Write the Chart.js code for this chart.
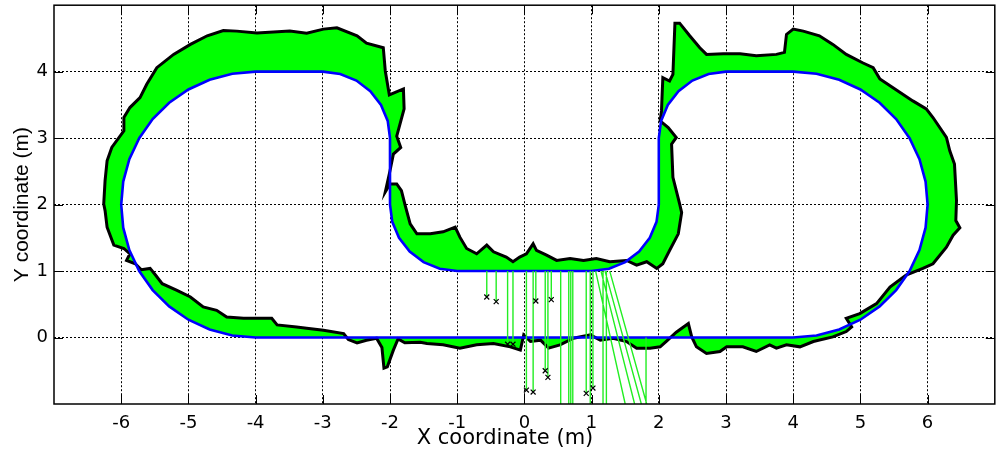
<!DOCTYPE html>
<html>
<head>
<meta charset="utf-8">
<script src="https://cdn.jsdelivr.net/npm/chart.js@4.4.1/dist/chart.umd.min.js"></script>
<style>
  html, body { margin: 0; padding: 0; background: #fff; }
  #wrap { width: 1000px; height: 460px; }
</style>
</head>
<body>
<div id="wrap"><canvas id="grafico"></canvas></div>
<script>
// ticks
const xTicks = [-6, -5, -4, -3, -2, -1, 0, 1, 2, 3, 4, 5, 6];
const yTicks = [0, 1, 2, 3, 4];

// planned track (blue), counter-clockwise from (-4, 0)
const trackXY = [
  [-4, 0], [4, 0],
  [4.347, 0.030], [4.684, 0.121], [5, 0.268], [5.286, 0.468], [5.532, 0.714], [5.732, 1], [5.879, 1.316], [5.970, 1.653],
  [6, 2], [5.970, 2.347], [5.879, 2.684], [5.732, 3], [5.532, 3.286], [5.286, 3.532], [5, 3.732], [4.684, 3.879], [4.347, 3.970], [4, 4],
  [3, 4], [2.741, 3.966], [2.5, 3.866], [2.293, 3.707], [2.134, 3.5], [2.034, 3.259], [2, 3],
  [2, 2], [1.966, 1.741], [1.866, 1.5], [1.707, 1.293], [1.5, 1.134], [1.259, 1.034], [1, 1],
  [-1, 1], [-1.259, 1.034], [-1.5, 1.134], [-1.707, 1.293], [-1.866, 1.5], [-1.966, 1.741], [-2, 2],
  [-2, 3], [-2.034, 3.259], [-2.134, 3.5], [-2.293, 3.707], [-2.5, 3.866], [-2.741, 3.966], [-3, 4],
  [-4, 4], [-4.347, 3.970], [-4.684, 3.879], [-5, 3.732], [-5.286, 3.532], [-5.532, 3.286], [-5.732, 3], [-5.879, 2.684], [-5.970, 2.347],
  [-6, 2], [-5.970, 1.653], [-5.879, 1.316], [-5.732, 1], [-5.532, 0.714], [-5.286, 0.468], [-5, 0.268], [-4.684, 0.121], [-4.347, 0.030], [-4, 0]
];

// measured outline (black), same direction
const scanXY = [
  [-4.00, 0.29], [-3.76, 0.29], [-3.68, 0.19], [-3.39, 0.16], [-3.24, 0.14], [-2.99, 0.11], [-2.69, 0.06], [-2.62, -0.03],
  [-2.49, -0.08], [-2.35, -0.04], [-2.20, -0.01], [-2.12, -0.15], [-2.09, -0.46], [-2.04, -0.44], [-1.95, -0.19], [-1.88, -0.02],
  [-1.78, -0.08], [-1.55, -0.07], [-1.45, -0.09], [-1.21, -0.11], [-0.96, -0.16], [-0.71, -0.11], [-0.46, -0.09], [-0.21, -0.14],
  [-0.06, -0.19], [-0.01, 0.04], [0.09, -0.06], [0.24, -0.04], [0.36, -0.16], [0.53, -0.11], [0.73, -0.01], [0.98, 0.04],
  [1.13, -0.04], [1.32, -0.01], [1.52, -0.06], [1.67, -0.16], [1.87, -0.16], [2.02, -0.14], [2.12, -0.05], [2.26, 0.08],
  [2.44, 0.21], [2.49, 0.01], [2.56, -0.14], [2.71, -0.24], [2.91, -0.21], [3.01, -0.14], [3.25, -0.14], [3.45, -0.21],
  [3.65, -0.11], [3.75, -0.16], [3.90, -0.11], [4.10, -0.14], [4.30, -0.06], [4.59, 0.01], [4.79, 0.09], [4.87, 0.16],
  [4.79, 0.29], [4.99, 0.36], [5.24, 0.51], [5.44, 0.76], [5.68, 0.94], [5.93, 1.04], [6.08, 1.11], [6.28, 1.36],
  [6.38, 1.54], [6.48, 1.65], [6.42, 1.76], [6.43, 2.06], [6.40, 2.61], [6.33, 2.81], [6.28, 3.01], [6.08, 3.31],
  [5.98, 3.44], [5.78, 3.56], [5.48, 3.76], [5.29, 3.89], [5.19, 4.06], [5.04, 4.13], [4.79, 4.26], [4.59, 4.41],
  [4.39, 4.54], [4.15, 4.61], [4.00, 4.64], [3.90, 4.56], [3.87, 4.29], [3.75, 4.26], [3.45, 4.24], [3.21, 4.27],
  [2.96, 4.27], [2.71, 4.26], [2.61, 4.36], [2.46, 4.54], [2.31, 4.73], [2.24, 4.73], [2.21, 3.96], [2.16, 3.86],
  [2.06, 3.91], [2.04, 3.41], [2.02, 3.26], [2.14, 3.16], [2.26, 3.01], [2.19, 2.91], [2.21, 2.41], [2.31, 2.01],
  [2.34, 1.88], [2.29, 1.56], [2.16, 1.31], [2.06, 1.11], [1.97, 1.04], [1.82, 1.14], [1.67, 1.09], [1.52, 1.16],
  [1.27, 1.14], [1.07, 1.19], [0.88, 1.16], [0.68, 1.19], [0.48, 1.16], [0.33, 1.24], [0.18, 1.31], [0.13, 1.41],
  [0.03, 1.26], [-0.07, 1.21], [-0.17, 1.14], [-0.27, 1.21], [-0.46, 1.29], [-0.56, 1.39], [-0.71, 1.26], [-0.86, 1.34],
  [-0.96, 1.51], [-1.03, 1.66], [-1.21, 1.59], [-1.40, 1.56], [-1.60, 1.56], [-1.70, 1.71], [-1.78, 2.01], [-1.83, 2.21],
  [-1.90, 2.31], [-2.00, 2.31], [-2.07, 2.19], [-2.00, 2.51], [-1.95, 2.76], [-1.84, 2.86], [-1.90, 3.03], [-1.79, 3.44],
  [-1.80, 3.74], [-2.01, 3.65], [-2.07, 4.01], [-2.10, 4.36], [-2.35, 4.43], [-2.49, 4.54], [-2.79, 4.66], [-2.99, 4.64],
  [-3.24, 4.58], [-3.49, 4.61], [-3.98, 4.58], [-4.28, 4.61], [-4.48, 4.62], [-4.72, 4.54], [-4.97, 4.41], [-5.22, 4.26],
  [-5.47, 4.06], [-5.62, 3.81], [-5.72, 3.61], [-5.87, 3.46], [-5.96, 3.31], [-5.96, 3.11], [-6.14, 2.86], [-6.21, 2.66],
  [-6.24, 2.36], [-6.26, 2.01], [-6.24, 1.91], [-6.21, 1.66], [-6.11, 1.39], [-5.96, 1.34], [-5.87, 1.26], [-5.92, 1.16],
  [-5.79, 1.11], [-5.70, 1.02], [-5.57, 1.04], [-5.49, 0.94], [-5.39, 0.81], [-5.17, 0.71], [-4.97, 0.61], [-4.78, 0.46],
  [-4.58, 0.41], [-4.43, 0.31], [-4.18, 0.29]
];

// stray readings: track point -> measured point
const strayFrom = [
  [-0.56, 1], [-0.42, 1], [0.17, 1], [0.40, 1], [0.03, 1], [0.13, 1], [0.31, 1], [0.35, 1], [0.92, 1], [1.02, 1],
  [-0.25, 1], [-0.17, 1], [0.54, 1], [0.66, 1], [0.69, 1], [0.72, 1], [0.98, 1], [1.17, 1], [1.22, 1],
  [1.06, 1], [1.14, 1], [1.20, 1], [1.27, 1], [1.81, 0]
];
const strayTo = [
  [-0.56, 0.61], [-0.42, 0.54], [0.17, 0.55], [0.40, 0.57], [0.03, -0.79], [0.13, -0.82], [0.31, -0.50], [0.35, -0.60], [0.92, -0.84], [1.02, -0.76],
  [-0.25, -0.10], [-0.17, -0.10], [0.54, -1.1], [0.66, -1.1], [0.69, -1.1], [0.72, -1.1], [0.98, -1.1], [1.17, -1.1], [1.22, -1.1],
  [1.50, -1.0], [1.64, -1.0], [1.74, -1.0], [1.82, -1.0], [1.81, -1.1]
];

document.addEventListener('DOMContentLoaded', function() {
    const pt = p => ({ x: p[0], y: p[1] });

    // closed band: outline forward, track backward -> filled between them
    const band = scanXY.map(pt).concat([pt(scanXY[0])], trackXY.slice().reverse().map(pt));

    const rays = [];
    strayFrom.forEach((p, i) => {
        rays.push(pt(p), pt(strayTo[i]), { x: NaN, y: NaN });
    });

    const wideFont = "'DejaVu Sans', sans-serif";
    const narrowFont = "'Liberation Sans', Arial, sans-serif";

    // box, inward ticks and the x label (MATLAB look)
    const boxPlugin = {
        id: 'boxPlugin',
        afterDraw(chart) {
            const { ctx, chartArea: a, scales } = chart;
            ctx.save();
            ctx.strokeStyle = '#000';
            ctx.lineWidth = 1;
            ctx.beginPath();
            xTicks.forEach(v => {
                const px = Math.round(scales.x.getPixelForValue(v)) + 0.5;
                ctx.moveTo(px, a.bottom); ctx.lineTo(px, a.bottom - 9);
                ctx.moveTo(px, a.top); ctx.lineTo(px, a.top + 9);
            });
            yTicks.forEach(v => {
                const py = Math.round(scales.y.getPixelForValue(v)) + 0.5;
                ctx.moveTo(a.left, py); ctx.lineTo(a.left + 9, py);
                ctx.moveTo(a.right, py); ctx.lineTo(a.right - 9, py);
            });
            ctx.stroke();
            ctx.lineWidth = 1.5;
            ctx.strokeRect(a.left, a.top, a.right - a.left, a.bottom - a.top);

            ctx.fillStyle = '#000';
            ctx.font = "21px " + wideFont;
            ctx.textAlign = 'center';
            ctx.textBaseline = 'middle';
            ctx.fillText('X coordinate (m)', 505, 439);
            ctx.restore();
        }
    };

    new Chart(document.getElementById('grafico').getContext('2d'), {
        type: 'scatter',
        data: {
            datasets: [
                {
                    label: 'stray marks',
                    data: strayTo.filter(p => p[1] > -1).map(pt),
                    showLine: false,
                    pointStyle: 'crossRot',
                    pointRadius: 3.5,
                    pointBorderWidth: 1.2,
                    borderColor: '#000',
                    backgroundColor: '#000',
                    order: 0
                },
                {
                    label: 'stray rays',
                    data: rays,
                    showLine: true,
                    spanGaps: false,
                    borderColor: '#22ee22',
                    borderWidth: 1.4,
                    pointRadius: 0,
                    order: 1
                },
                {
                    label: 'track',
                    data: trackXY.map(pt),
                    showLine: true,
                    borderColor: '#0000ff',
                    borderWidth: 2.6,
                    pointRadius: 0,
                    order: 2
                },
                {
                    label: 'outline',
                    data: scanXY.map(pt).concat([pt(scanXY[0])]),
                    showLine: true,
                    borderColor: '#000',
                    borderWidth: 3,
                    pointRadius: 0,
                    order: 3
                },
                {
                    label: 'band',
                    data: band,
                    showLine: true,
                    borderColor: 'rgba(0,0,0,0)',
                    borderWidth: 0,
                    backgroundColor: '#00ff00',
                    fill: 'shape',
                    pointRadius: 0,
                    order: 4
                }
            ]
        },
        options: {
            responsive: true,
            maintainAspectRatio: false,
            animation: false,
            events: [],
            layout: { padding: { top: 4, right: 5, left: 0, bottom: 0 } },
            plugins: {
                legend: { display: false },
                tooltip: { enabled: false }
            },
            scales: {
                x: {
                    type: 'linear',
                    min: -7,
                    max: 7,
                    afterBuildTicks: s => { s.ticks = xTicks.map(v => ({ value: v })); },
                    afterFit: s => { s.height = 56; s.paddingLeft = 0; s.paddingRight = 0; },
                    grid: { color: '#000', lineWidth: 1, drawTicks: false },
                    border: { display: false, dash: [2, 2] },
                    ticks: {
                        color: '#000',
                        padding: 9,
                        maxRotation: 0,
                        autoSkip: false,
                        font: { family: wideFont, size: 18 }
                    }
                },
                y: {
                    type: 'linear',
                    min: -1,
                    max: 5,
                    afterBuildTicks: s => { s.ticks = yTicks.map(v => ({ value: v })); },
                    afterFit: s => { s.width = 54; s.paddingTop = 0; s.paddingBottom = 0; },
                    grid: { color: '#000', lineWidth: 1, drawTicks: false },
                    border: { display: false, dash: [2, 2] },
                    ticks: {
                        color: '#000',
                        padding: 6,
                        font: { family: wideFont, size: 18 }
                    },
                    title: {
                        display: true,
                        text: 'Y coordinate (m)',
                        color: '#000',
                        padding: { top: 10, bottom: 0 },
                        font: { family: narrowFont, size: 21 }
                    }
                }
            }
        },
        plugins: [boxPlugin]
    });
});
</script>
</body>
</html>
